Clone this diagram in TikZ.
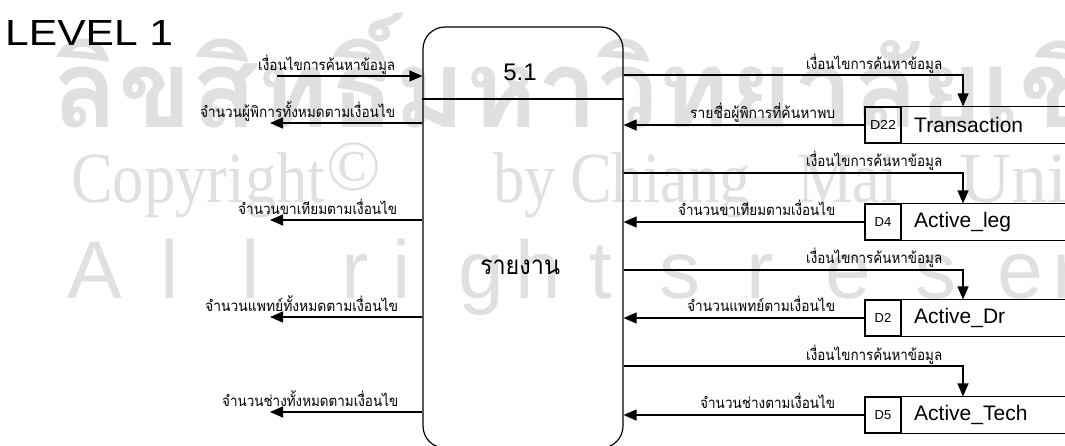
\documentclass[tikz,border=0pt]{standalone}
\usepackage{fontspec}
\setmainfont{Liberation Sans}
\newfontfamily\thai[Script=Thai]{Loma}
\newfontfamily\wmserif{Liberation Serif}
\usetikzlibrary{arrows.meta}
\definecolor{wmgray}{gray}{0.88}
\newcommand\fitw[2]{\resizebox{#1}{\height}{#2}}
\newcommand\sqz[1]{\scalebox{0.87}[1]{#1}}
\tikzset{
  ln/.style={line width=1.2pt},
  arr/.style={ln,-{Triangle[length=13pt,width=11pt]}},
  lbl/.style={inner sep=0pt,anchor=base west,font=\thai\fontsize{15}{15}\selectfont},
  wm/.style={inner sep=0pt,anchor=base west,text=wmgray},
  wmth/.style={wm,font=\thai\bfseries\fontsize{108}{108}\selectfont},
  wmse/.style={wm,font=\wmserif\fontsize{72}{72}\selectfont},
  wmsa/.style={wm,font=\fontsize{82}{82}\selectfont},
  sid/.style={draw,ln,minimum width=36pt,minimum height=36pt,inner sep=0pt,font=\fontsize{13}{13}\selectfont},
  sname/.style={anchor=west,inner sep=0pt,font=\fontsize{21}{21}\selectfont},
}
\begin{document}
\begin{tikzpicture}[x=1pt,y=-1pt]
\useasboundingbox (0,0) rectangle (1065,445);
% watermark
\node[wmth] (w1) at (52,127) {ลิขสิทธิ์มหาวิทยาลัยเชียงใหม่};
\node[wmse] (w2) at (71,202) {\sqz{Copyright}};
\node[wmse] (w3) at (326,190) {©};
\node[wmse] (w4) at (493,202) {\sqz{by}};
\node[wmse] (w5) at (570,202) {\sqz{Chiang}};
\node[wmse] (w6) at (797,202) {\sqz{Mai}};
\node[wmse] (w7) at (959,202) {University};
\foreach \ch/\xx [count=\i] in {A/67,l/160,l/241,r/341,i/392,g/458,h/515,t/589,s/659,r/746,e/825,s/915,e/997,r/1052}
  \node[wmsa] (wa\i) at (\xx,298) {\ch};
% title
\node[anchor=north west,inner sep=0pt] (lvl) at (5,20) {\resizebox{168pt}{25pt}{LEVEL 1}};
% process
\node[draw,ln,rounded corners=22pt,minimum width=200pt,minimum height=421pt,inner sep=0pt] (p) at (523,237.5) {};
\coordinate (dv) at (0,99);
\draw[ln] (p.west |- dv) -- (p.east |- dv);
\node (pid) at (520,72) {\fontsize{24}{24}\selectfont 5.1};
\node (pname) at (520,267) {\thai\fontsize{26}{26}\selectfont\fitw{80pt}{รายงาน}};
% left flows
\coordinate (s1) at (277,76);
\draw[arr] (s1) -- (s1 -| p.west);
\foreach \n/\yy in {2/123,3/220,4/317,5/412}{
  \coordinate (e\n) at (270,\yy);
  \draw[arr] (e\n -| p.west) -- (e\n);
}
\node[lbl] (l1) at (258,70) {\fitw{137pt}{เงื่อนไขการค้นหาข้อมูล}};
\node[lbl] (l2) at (200,117) {\fitw{195pt}{จำนวนผู้พิการทั้งหมดตามเงื่อนไข}};
\node[lbl] (l3) at (238,214) {\fitw{159pt}{จำนวนขาเทียมตามเงื่อนไข}};
\node[lbl] (l4) at (205,311) {\fitw{193pt}{จำนวนแพทย์ทั้งหมดตามเงื่อนไข}};
\node[lbl] (l5) at (222,406) {\fitw{176pt}{จำนวนช่างทั้งหมดตามเงื่อนไข}};
% stores
\foreach \nm/\id/\title/\yy in {d4/D4/Active\_leg/222,d2/D2/Active\_Dr/318,d5/D5/Active\_Tech/415}{
  \node[sid] (\nm) at (883,\yy) {\id};
  \draw[ln] (\nm.north east) -- ++(180,0);
  \draw[ln] (\nm.south east) -- ++(180,0);
  \node[sname] (\nm t) at (914,\yy) {\title};
  \draw[arr] (\nm.west) -- (\nm.west -| p.east);
}
\node[sid] (d22) at (883,125) {\fitw{26pt}{D22}};
\draw[ln] (d22.north east) -- ++(180,0);
\draw[ln] (d22.south east) -- ++(180,0);
\node[sname] (d22t) at (914,125) {Transaction};
\draw[arr] (d22.west) -- (d22.west -| p.east);
% request flows
\foreach \nm/\yy in {d22/75,d4/173,d2/270,d5/366}{
  \coordinate (r\nm) at (963,\yy);
  \draw[arr] (r\nm -| p.east) -- (r\nm) -- (r\nm |- \nm.north);
}
\node[lbl] (r1) at (806,69) {\fitw{136pt}{เงื่อนไขการค้นหาข้อมูล}};
\node[lbl] (r2) at (690,118) {\fitw{145pt}{รายชื่อผู้พิการที่ค้นหาพบ}};
\node[lbl] (r3) at (806,166) {\fitw{136pt}{เงื่อนไขการค้นหาข้อมูล}};
\node[lbl] (r4) at (678,215) {\fitw{157pt}{จำนวนขาเทียมตามเงื่อนไข}};
\node[lbl] (r5) at (806,263) {\fitw{136pt}{เงื่อนไขการค้นหาข้อมูล}};
\node[lbl] (r6) at (687,311) {\fitw{148pt}{จำนวนแพทย์ตามเงื่อนไข}};
\node[lbl] (r7) at (806,360) {\fitw{136pt}{เงื่อนไขการค้นหาข้อมูล}};
\node[lbl] (r8) at (700,408) {\fitw{135pt}{จำนวนช่างตามเงื่อนไข}};
\end{tikzpicture}
\end{document}
